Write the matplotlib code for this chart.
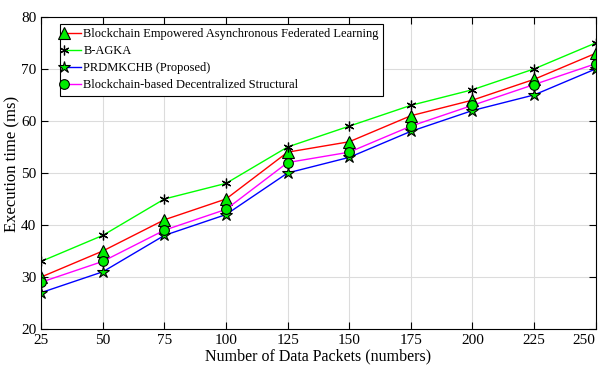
import numpy as np
import matplotlib
matplotlib.use('Agg')
import matplotlib.pyplot as plt
from matplotlib.legend_handler import HandlerLine2D

plt.rcParams['font.family'] = ['Liberation Serif', 'DejaVu Serif']

# data
packets = [25, 50, 75, 100, 125, 150, 175, 200, 225, 250]
befl = [30, 35, 41, 45, 54, 56, 61, 64, 68, 73]
bagka = [33, 38, 45, 48, 55, 59, 63, 66, 70, 75]
prdmkchb = [27, 31, 38, 42, 50, 53, 58, 62, 65, 70]
bdss = [29, 33, 39, 43, 52, 54, 59, 63, 67, 71]


class MarkerLeft(HandlerLine2D):
    # legend handle with the marker at the left end of the line
    def create_artists(self, *args, **kwargs):
        arts = super().create_artists(*args, **kwargs)
        for a in arts:
            if a.get_markevery() is not None:
                a.set_markevery([0])
        return arts


fig = plt.figure(figsize=(6.06, 3.76), dpi=100)
ax = fig.add_axes([0.068, 0.125, 0.915, 0.83])

ax.plot(packets, befl, color='red', lw=1, marker='^', ms=8, mfc='#00ee00', mec='black',
        mew=0.8, label='Blockchain Empowered Asynchronous Federated Learning')
ax.plot(packets, bagka, color='#00ff00', lw=1, marker=(6, 2, 0), ms=7, mec='black',
        mew=0.9, label='B-AGKA')
ax.plot(packets, prdmkchb, color='blue', lw=1, marker='*', ms=9, mfc='#00ee00', mec='black',
        mew=0.8, label='PRDMKCHB (Proposed)')
ax.plot(packets, bdss, color='magenta', lw=1, marker='o', ms=7, mfc='#00ee00', mec='black',
        mew=0.8, label='Blockchain-based Decentralized Structural')

ax.set_xlim(25, 250)
ax.set_ylim(20, 80)
ax.set_xticks(packets)
ax.set_yticks(np.arange(20, 81, 10))
ax.grid(True, color='#dcdcdc', lw=0.8)
ax.tick_params(direction='in', top=True, right=True, labelsize=11, length=5)
ax.get_xticklabels()[-1].set_horizontalalignment('right')
ax.set_xlabel('Number of Data Packets (numbers)', fontsize=11.5, labelpad=1)
ax.set_ylabel('Execution time (ms)', fontsize=12)
ax.yaxis.set_label_coords(-0.038, 0.53)

leg = ax.legend(loc='upper left', bbox_to_anchor=(0.034, 0.978), borderaxespad=0,
                fontsize=9, fancybox=False, framealpha=1, edgecolor='black',
                handlelength=1.3, handletextpad=0.2, borderpad=0.35, labelspacing=0.4,
                handler_map={matplotlib.lines.Line2D: MarkerLeft()})
leg.get_frame().set_linewidth(0.8)

fig.savefig('out.png', dpi=100)
